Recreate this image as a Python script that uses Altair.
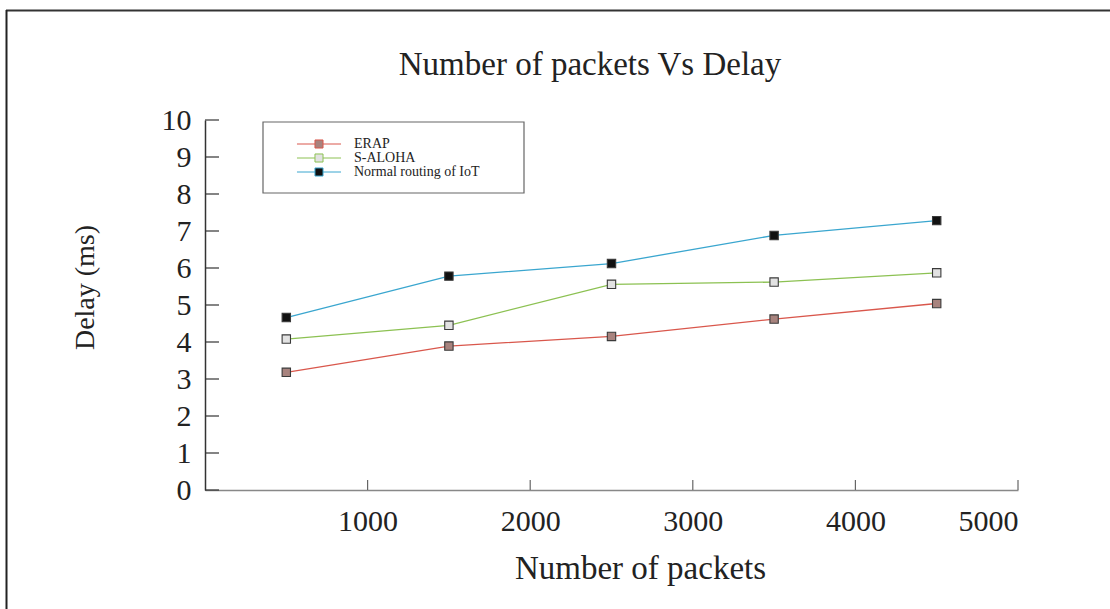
import altair as alt
import pandas as pd

packets = [500, 1500, 2500, 3500, 4500]
erap = [3.18, 3.89, 4.15, 4.62, 5.04]
saloha = [4.08, 4.45, 5.56, 5.62, 5.87]
normal = [4.66, 5.78, 6.12, 6.88, 7.28]
series_names = ["ERAP", "S-ALOHA", "Normal routing of IoT"]
line_colors = ["#d9574c", "#8cc152", "#3aa6cf"]
fill_colors = ["#a8837e", "#e2e2e2", "#111111"]
y_ticks = [0, 1, 2, 3, 4, 5, 6, 7, 8, 9, 10]
x_ticks = [1000, 2000, 3000, 4000, 5000]
title_text = "Number of packets Vs Delay"

rows = []
for name, vals in zip(series_names, [erap, saloha, normal]):
    for p, v in zip(packets, vals):
        rows.append({"packets": p, "delay": v, "series": name})
df = pd.DataFrame(rows)

W, H = 813, 370
FONT = "Liberation Serif"

x_scale = alt.Scale(domain=[0, 5000], nice=False)
y_scale = alt.Scale(domain=[0, 10], nice=False)
stroke_scale = alt.Scale(domain=series_names, range=line_colors)
fill_scale = alt.Scale(domain=series_names, range=fill_colors)

# legend symbol: line - square - line, wider than its nominal size box
sym = "M-3.67,0H-0.67M0.67,0H3.67M-0.67,-0.67H0.67V0.67H-0.67Z"
legend = alt.Legend(
    title=None, orient="none", legendX=58, legendY=2,
    symbolType=sym, symbolSize=144, symbolStrokeWidth=1,
    labelFont=FONT, labelFontSize=14, labelColor="#222",
    padding=15, symbolOffset=34, labelOffset=28, rowPadding=0,
)

x_axis = alt.Axis(values=x_ticks, format="d", ticks=False, labelFont=FONT, labelFontSize=30,
                  labelColor="#222", labelPadding=16, domainColor="#888", domainWidth=1.5,
                  grid=False, labelOverlap=False,
                  title="Number of packets", titleFont=FONT, titleFontSize=33,
                  titleFontWeight="normal", titleColor="#222", titleX=435, titleY=88,
                  titleBaseline="alphabetic", titleAlign="center")
y_axis = alt.Axis(values=y_ticks, ticks=False, labelFont=FONT, labelFontSize=30,
                  labelColor="#222", labelPadding=14, domainColor="#333", domainWidth=1.5,
                  grid=False, labelOverlap=False,
                  title="Delay (ms)", titleFont=FONT, titleFontSize=28,
                  titleFontWeight="normal", titleColor="#222", titleX=-112, titleY=167,
                  titleAngle=270, titleBaseline="alphabetic", titleAlign="center")

base = alt.Chart(df)
lines = base.mark_line(strokeWidth=1.3).encode(
    x=alt.X("packets:Q", scale=x_scale, axis=x_axis),
    y=alt.Y("delay:Q", scale=y_scale, axis=y_axis),
    stroke=alt.Stroke("series:N", scale=stroke_scale, legend=legend, sort=series_names),
    detail="series:N",
)
points = base.mark_point(shape="square", size=70, filled=True, strokeWidth=1.1,
                         opacity=1, stroke="#3a3a3a").encode(
    x=alt.X("packets:Q", scale=x_scale, axis=x_axis),
    y=alt.Y("delay:Q", scale=y_scale, axis=y_axis),
    fill=alt.Fill("series:N", scale=fill_scale, legend=legend, sort=series_names),
)

ytick_df = pd.DataFrame({"v": y_ticks})
xtick_df = pd.DataFrame({"v": x_ticks})
yt = alt.Chart(ytick_df).mark_rule(color="#333", strokeWidth=1.2).encode(
    y=alt.Y("v:Q", scale=y_scale, axis=y_axis, title="Delay (ms)"),
    x=alt.value(0), x2=alt.value(14))
xt = alt.Chart(xtick_df).mark_rule(color="#666", strokeWidth=1.2).encode(
    x=alt.X("v:Q", scale=x_scale, axis=x_axis, title="Number of packets"),
    y=alt.value(H), y2=alt.value(H - 10))

one = pd.DataFrame({"a": [0]})
frame_top = alt.Chart(one).mark_rule(color="#333", strokeWidth=2).encode(
    x=alt.value(-199), x2=alt.value(905), y=alt.value(-109.5))
frame_left = alt.Chart(one).mark_rule(color="#222", strokeWidth=2).encode(
    x=alt.value(-198.5), y=alt.value(-110), y2=alt.value(489))
legend_box = alt.Chart(one).mark_rect(fill="white", stroke="#666", strokeWidth=1.2).encode(
    x=alt.value(58), x2=alt.value(319), y=alt.value(2), y2=alt.value(73))
title = alt.Chart(one).mark_text(font=FONT, fontSize=33, color="#222", align="center",
                                 baseline="alphabetic").encode(
    x=alt.value(385), y=alt.value(-45), text=alt.value(title_text))

chart = alt.layer(frame_top, frame_left, title, yt, xt, legend_box, lines, points).properties(
    width=W, height=H,
    autosize=alt.AutoSizeParams(type="none"),
    padding={"left": 205, "top": 120, "right": 92, "bottom": 119},
).configure(background="white").configure_view(stroke="transparent").configure_axis(labelOverlap=False)

chart.save("out.html", embed_options={"renderer": "svg", "actions": False})
